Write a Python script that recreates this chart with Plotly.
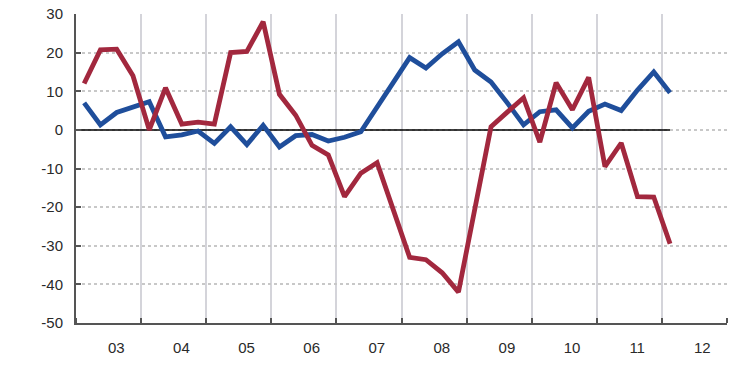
import plotly.graph_objects as go

# Quarterly observations, 2003Q1 .. 2012Q1 (position = year + quarter midpoint)
years = [2003 + i // 4 for i in range(37)]
qtrs = [i % 4 + 1 for i in range(37)]
xq = [y + (q - 1) * 0.25 + 0.125 for y, q in zip(years, qtrs)]

blue_series = [7, 1.3, 4.5, 6, 7.3, -1.8, -1.3, -0.3, -3.5, 0.8, -3.8, 1.2, -4.4,
               -1.5, -1.2, -2.9, -1.9, -0.5, 5.7, 12.3, 18.7, 16, 19.7, 22.8, 15.5,
               12.4, 7, 1.3, 4.7, 5.2, 0.5, 4.8, 6.7, 5, 10.3, 15, 9.6]
red_series = [12, 20.7, 20.9, 14, 0, 10.9, 1.5, 2, 1.5, 20, 20.3, 28, 9.2, 3.8, -4,
              -6.5, -17.3, -11.2, -8.5, -21, -33, -33.6, -37, -42, -21, 0.8, 4.6,
              8.3, -3.2, 12.2, 5.2, 13.6, -9.5, -3.4, -17.3, -17.4, -29.5]

year_labels = ["03", "04", "05", "06", "07", "08", "09", "10", "11", "12"]
year_starts = list(range(2003, 2014))
y_ticks = [30, 20, 10, 0, -10, -20, -30, -40, -50]
y_ticktext = [str(v) if v >= 0 else "-" + str(-v) for v in y_ticks]

fig = go.Figure()
fig.add_trace(go.Scatter(x=xq, y=blue_series, mode="lines",
                         line=dict(color="#1F4E9B", width=4.8), showlegend=False))
fig.add_trace(go.Scatter(x=xq, y=red_series, mode="lines",
                         line=dict(color="#A2283E", width=4.8), showlegend=False))

fig.add_shape(type="line", xref="x", yref="y", x0=2003, x1=xq[-1], y0=0, y1=0,
              line=dict(color="black", width=1.5), layer="between")

fig.update_layout(
    width=740, height=389,
    margin=dict(l=76, r=13, t=14, b=66),
    paper_bgcolor="white", plot_bgcolor="white",
    font=dict(family="Liberation Sans, Arial, sans-serif", size=15, color="#2a2a2a"),
    xaxis=dict(
        range=[2003, 2013], automargin=False,
        tickvals=[y + 0.62 for y in year_starts[:-1]],
        ticktext=year_labels,
        ticks="", showgrid=False, zeroline=False,
        showline=True, linecolor="#555", linewidth=2,
        ticklabelstandoff=10,
        minor=dict(tickvals=year_starts, ticks="inside", ticklen=5,
                   tickcolor="#555", tickwidth=2,
                   showgrid=True, gridcolor="#d4d4da", gridwidth=2),
    ),
    yaxis=dict(
        range=[-50, 30], automargin=False,
        tickvals=y_ticks, ticktext=y_ticktext,
        ticks="inside", ticklen=5, tickcolor="#555", tickwidth=2,
        showline=True, linecolor="#555", linewidth=2,
        showgrid=True, gridcolor="#c8c8c8", gridwidth=1.5, griddash="3px,3px",
        zeroline=False, ticklabelstandoff=8,
    ),
)

fig.write_html("out.html", config={"displayModeBar": False},
               post_script="document.body.style.margin='0';document.body.style.padding='0';")
